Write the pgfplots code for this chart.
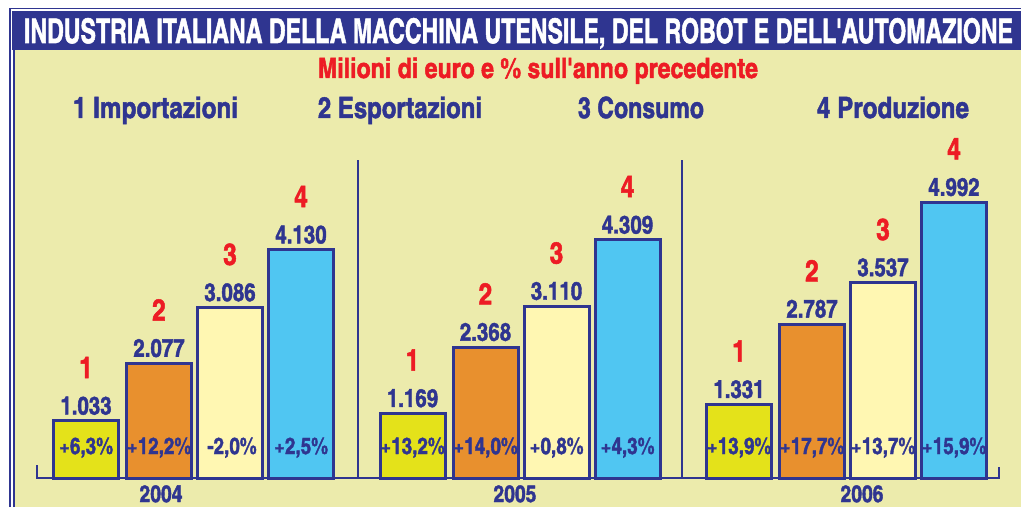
\documentclass[border=0pt]{standalone}
\usepackage{pgfplots}
\pgfplotsset{compat=1.18}
\usepackage{fontspec}
\usepackage{graphicx}
\newfontfamily\cn{texgyreheroscn-bold}[Extension=.otf, FakeBold=1.6]
\definecolor{navy}{RGB}{47,53,144}
\definecolor{bgy}{RGB}{236,235,172}
\definecolor{cA}{RGB}{228,226,26}
\definecolor{cB}{RGB}{232,144,46}
\definecolor{cC}{RGB}{255,247,178}
\definecolor{cD}{RGB}{80,198,242}
\definecolor{rd}{RGB}{237,28,36}
\tikzset{
  pct/.style={anchor=base, yshift=24pt, inner sep=0pt, font=\cn\fontsize{23}{25}\selectfont, text=navy},
  dig/.style={label={[text=rd, font=\cn\fontsize{30}{32}\selectfont, anchor=base, inner sep=0pt, yshift=17pt]90:#1}},
}
\begin{document}
\begin{tikzpicture}
\useasboundingbox (0pt,0pt) rectangle (1021pt,507pt);
\fill[white] (0pt,0pt) rectangle (1021pt,507pt);
\fill[bgy] (15pt,0pt) rectangle (1021pt,457pt);
\fill[navy] (12pt,457pt) rectangle (1021pt,496pt);
\draw[navy, line width=1.5pt] (10pt,0pt) -- (10pt,498.5pt) -- (1021pt,498.5pt);
\draw[navy, line width=2.5pt] (14pt,0pt) -- (14pt,457pt);
\node[anchor=base, inner sep=0pt, text=white] at (518.5pt,464pt)
  {\resizebox{989pt}{25pt}{\cn\fontsize{35}{40}\selectfont INDUSTRIA ITALIANA DELLA MACCHINA UTENSILE, DEL ROBOT E DELL\textquotesingle AUTOMAZIONE}};
\node[anchor=base, inner sep=0pt, text=rd] at (538pt,429pt)
  {\resizebox{440pt}{20.5pt}{\cn\fontsize{20}{24}\selectfont Milioni di euro e \% sull\textquotesingle anno precedente}};
\node[anchor=base, inner sep=0pt, text=navy] at (155.5pt,389pt) {\resizebox{165pt}{21.5pt}{\cn\fontsize{29}{32}\selectfont 1 Importazioni}};
\node[anchor=base, inner sep=0pt, text=navy] at (400pt,389pt) {\resizebox{164pt}{21.5pt}{\cn\fontsize{29}{32}\selectfont 2 Esportazioni}};
\node[anchor=base, inner sep=0pt, text=navy] at (641pt,389pt) {\resizebox{126pt}{21.5pt}{\cn\fontsize{29}{32}\selectfont 3 Consumo}};
\node[anchor=base, inner sep=0pt, text=navy] at (893pt,389pt) {\resizebox{152pt}{21.5pt}{\cn\fontsize{29}{32}\selectfont 4 Produzione}};
\draw[navy, line width=2pt] (358pt,29pt) -- (358pt,347pt);
\draw[navy, line width=2pt] (682pt,29pt) -- (682pt,347pt);
\begin{axis}[
  at={(0pt,29pt)}, anchor=south west,
  width=1021pt, height=348pt, scale only axis,
  xmin=-0.5911, xmax=2.5360, ymin=0, ymax=6300,
  clip=false,
  axis line style={draw=none},
  ytick=\empty,
  xtick={-0.098,0.986,2.049}, xticklabels={2004,2005,2006},
  major tick length=0pt,
  xticklabel style={anchor=base, yshift=-24pt, font=\cn\fontsize{23.5}{25}\selectfont, text=navy, inner sep=0pt},
  ybar, bar width=65pt,
  point meta=explicit symbolic,
  nodes near coords,
  every node near coord/.append style={anchor=base, yshift=6.5pt, inner sep=0pt, font=\cn\fontsize{25}{27}\selectfont, text=navy},
]
\addplot[fill=cA, draw=navy, line width=3pt, bar shift=-107pt, every node near coord/.append style={dig=1}]
  coordinates {(0,1033) [1.033] (1,1169) [1.169] (2,1331) [1.331]};
\addplot[fill=cB, draw=navy, line width=3pt, bar shift=-34pt, every node near coord/.append style={dig=2}]
  coordinates {(0,2077) [2.077] (1,2368) [2.368] (2,2787) [2.787]};
\addplot[fill=cC, draw=navy, line width=3pt, bar shift=37pt, every node near coord/.append style={dig=3}]
  coordinates {(0,3086) [3.086] (1,3110) [3.110] (2,3537) [3.537]};
\addplot[fill=cD, draw=navy, line width=3pt, bar shift=108pt, every node near coord/.append style={dig=4}]
  coordinates {(0,4130) [4.130] (1,4309) [4.309] (2,4992) [4.992]};
\node[pct, xshift=-107pt] at (axis cs:0,0) {+6,3\%};
\node[pct, xshift=-34pt] at (axis cs:0,0) {+12,2\%};
\node[pct, xshift=39pt] at (axis cs:0,0) {-2,0\%};
\node[pct, xshift=108pt] at (axis cs:0,0) {+2,5\%};
\node[pct, xshift=-107pt] at (axis cs:1,0) {+13,2\%};
\node[pct, xshift=-34pt] at (axis cs:1,0) {+14,0\%};
\node[pct, xshift=37pt] at (axis cs:1,0) {+0,8\%};
\node[pct, xshift=108pt] at (axis cs:1,0) {+4,3\%};
\node[pct, xshift=-107pt] at (axis cs:2,0) {+13,9\%};
\node[pct, xshift=-34pt] at (axis cs:2,0) {+17,7\%};
\node[pct, xshift=37pt] at (axis cs:2,0) {+13,7\%};
\node[pct, xshift=108pt] at (axis cs:2,0) {+15,9\%};
\end{axis}
\draw[navy, line width=2.5pt] (37pt,42pt) -- (37pt,29pt) -- (999pt,29pt) -- (999pt,40pt);
\end{tikzpicture}
\end{document}
